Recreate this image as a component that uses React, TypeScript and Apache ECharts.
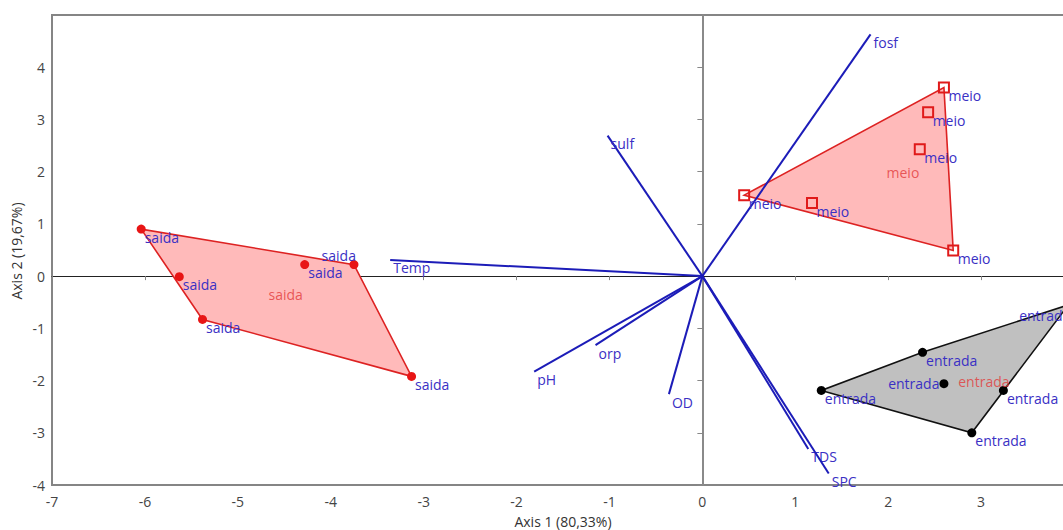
import React, { useEffect, useRef } from "react";
import * as echarts from "echarts";

// ---- data ----
const groupNames = ["saida", "meio", "entrada"];
const saidaX = [-6.04, -5.63, -5.38, -4.28, -3.75, -3.13];
const saidaY = [0.9, -0.01, -0.83, 0.22, 0.22, -1.92];
const meioX = [0.45, 1.18, 2.34, 2.43, 2.6, 2.7];
const meioY = [1.55, 1.4, 2.43, 3.14, 3.61, 0.49];
const entradaX = [1.28, 2.37, 2.6, 3.24, 2.9, 3.94];
const entradaY = [-2.19, -1.46, -2.06, -2.19, -3.0, -0.55];

const variableNames = ["fosf", "sulf", "Temp", "pH", "orp", "OD", "TDS", "SPC"];
const loadingX = [1.81, -1.02, -3.36, -1.81, -1.15, -0.36, 1.14, 1.36];
const loadingY = [4.63, 2.69, 0.31, -1.83, -1.32, -2.26, -3.31, -3.78];

const xAxisTitle = "Axis 1 (80,33%)";
const yAxisTitle = "Axis 2 (19,67%)";

// label placement exceptions (index -> placement)
const labelPlacement: Record<string, Record<number, string>> = {
  saida: { 4: "topLeft" },
  meio: {},
  entrada: { 2: "left", 5: "bottomLeft" },
};

const FONT = '"Open Sans", "Noto Sans", sans-serif';
const LABEL_BLUE = "#3a30c4";
const LINE_BLUE = "#1c1cb8";
const RED_TEXT = "#e23a3a";

function hull(pts: number[][]): number[][] {
  const p = pts.slice().sort((a, b) => a[0] - b[0] || a[1] - b[1]);
  const cross = (o: number[], a: number[], b: number[]) =>
    (a[0] - o[0]) * (b[1] - o[1]) - (a[1] - o[1]) * (b[0] - o[0]);
  const lower: number[][] = [];
  for (const q of p) {
    while (lower.length >= 2 && cross(lower[lower.length - 2], lower[lower.length - 1], q) <= 0) lower.pop();
    lower.push(q);
  }
  const upper: number[][] = [];
  for (let i = p.length - 1; i >= 0; i--) {
    const q = p[i];
    while (upper.length >= 2 && cross(upper[upper.length - 2], upper[upper.length - 1], q) <= 0) upper.pop();
    upper.push(q);
  }
  upper.pop();
  lower.pop();
  return lower.concat(upper);
}

function labelFor(place: string | undefined, half: number) {
  if (place === "topLeft") return { position: "left", distance: 0, offset: [half + 2, -9] };
  if (place === "left") return { position: "left", distance: 0, offset: [0, 0] };
  if (place === "bottomLeft") return { position: "left", distance: 0, offset: [half + 2, 11] };
  return { position: "right", distance: 0, offset: [-half + 3.5, 8] };
}

export default function App() {
  const ref = useRef<HTMLDivElement>(null);
  useEffect(() => {
    if (!ref.current) return;
    const chart = echarts.init(ref.current, undefined, { renderer: "svg" });

    const groups = [
      { name: "saida", xs: saidaX, ys: saidaY, symbol: "circle", size: 9, color: "#e81515", fill: "#e81515", border: 0, hullFill: "#ffbaba", hullStroke: "#dd2222" },
      { name: "meio", xs: meioX, ys: meioY, symbol: "rect", size: 10, color: "#e01a1a", fill: "rgba(0,0,0,0)", border: 2, hullFill: "#ffbaba", hullStroke: "#dd2222" },
      { name: "entrada", xs: entradaX, ys: entradaY, symbol: "circle", size: 9, color: "#000000", fill: "#000000", border: 0, hullFill: "#c0c0c0", hullStroke: "#111111" },
    ];

    const series: any[] = [];
    groups.forEach((g) => {
      const pts = g.xs.map((x, i) => [x, g.ys[i]]);
      const h = hull(pts);
      series.push({
        type: "custom",
        coordinateSystem: "cartesian2d",
        silent: true,
        z: 1,
        data: h,
        encode: { x: 0, y: 1 },
        renderItem: (params: any, api: any) => {
          if (params.dataIndex !== 0) return null;
          return {
            type: "polygon",
            shape: { points: h.map((p) => api.coord(p)) },
            style: { fill: g.hullFill, stroke: g.hullStroke, lineWidth: 1.6 },
          };
        },
      });
    });

    series.push({
      type: "custom",
      coordinateSystem: "cartesian2d",
      silent: true,
      z: 2,
      data: variableNames.map((n, i) => [loadingX[i], loadingY[i]]),
      encode: { x: 0, y: 1 },
      renderItem: (params: any, api: any) => {
        const o = api.coord([0, 0]);
        const e = api.coord([api.value(0), api.value(1)]);
        return {
          type: "group",
          children: [
            { type: "line", shape: { x1: o[0], y1: o[1], x2: e[0], y2: e[1] }, style: { stroke: LINE_BLUE, lineWidth: 2 } },
            {
              type: "text",
              x: e[0] + 3,
              y: e[1] + 1,
              style: { text: variableNames[params.dataIndex], fill: LABEL_BLUE, fontSize: 14, fontFamily: FONT, align: "left", verticalAlign: "top" },
            },
          ],
        };
      },
    });

    groups.forEach((g) => {
      const half = g.size / 2;
      series.push({
        type: "scatter",
        z: 3,
        symbol: g.symbol,
        symbolSize: g.size,
        itemStyle: { color: g.fill, borderColor: g.color, borderWidth: g.border, opacity: 1 },
        label: { show: true, formatter: g.name, color: LABEL_BLUE, fontSize: 14, fontFamily: FONT, ...labelFor(undefined, half) },
        data: g.xs.map((x, i) => {
          const place = labelPlacement[g.name][i];
          const item: any = { value: [x, g.ys[i]] };
          if (place) item.label = labelFor(place, half);
          return item;
        }),
      });
    });

    // group centroid labels
    series.push({
      type: "scatter",
      z: 4,
      symbolSize: 1,
      itemStyle: { color: "rgba(0,0,0,0)" },
      label: { show: true, position: "right", distance: 2.5, offset: [0, 6], color: RED_TEXT, fontSize: 14, fontFamily: FONT, formatter: (p: any) => groupNames[p.dataIndex] },
      data: groups.map((g) => [
        g.xs.reduce((a, b) => a + b, 0) / g.xs.length,
        g.ys.reduce((a, b) => a + b, 0) / g.ys.length,
      ]),
    });

    chart.setOption({
      animation: false,
      grid: { left: 52, top: 15, right: 26, bottom: 45, show: true, borderColor: "#858585", borderWidth: 2, backgroundColor: "#ffffff" },
      xAxis: {
        type: "value",
        min: -7,
        max: 4,
        interval: 1,
        axisLine: { onZero: true, lineStyle: { color: "#222222", width: 1 } },
        axisTick: { show: true, length: 4, lineStyle: { color: "#888888" } },
        axisLabel: { color: "#444444", fontSize: 14, fontFamily: FONT, margin: 9, showMaxLabel: false },
        splitLine: { show: false },
      },
      yAxis: {
        type: "value",
        min: -4,
        max: 5,
        interval: 1,
        axisLine: { onZero: true, lineStyle: { color: "#8a8a8a", width: 2 } },
        axisTick: { show: true, length: 5, lineStyle: { color: "#888888" } },
        axisLabel: { color: "#444444", fontSize: 14, fontFamily: FONT, margin: 7, showMaxLabel: false },
        splitLine: { show: false },
      },
      graphic: [
        { type: "text", x: 563, y: 521, style: { text: xAxisTitle, fill: "#333333", fontSize: 14, fontFamily: FONT, align: "center", verticalAlign: "middle" } },
        { type: "text", x: 16, y: 251, rotation: Math.PI / 2, style: { text: yAxisTitle, fill: "#333333", fontSize: 14, fontFamily: FONT, align: "center", verticalAlign: "middle" } },
      ],
      series,
    });
    return () => chart.dispose();
  }, []);
  return (
    <div style={{ position: "fixed", left: 0, top: 0, width: 1063, height: 530, overflow: "hidden", background: "#fff" }}>
      <div ref={ref} style={{ width: 1100, height: 530 }} />
    </div>
  );
}
